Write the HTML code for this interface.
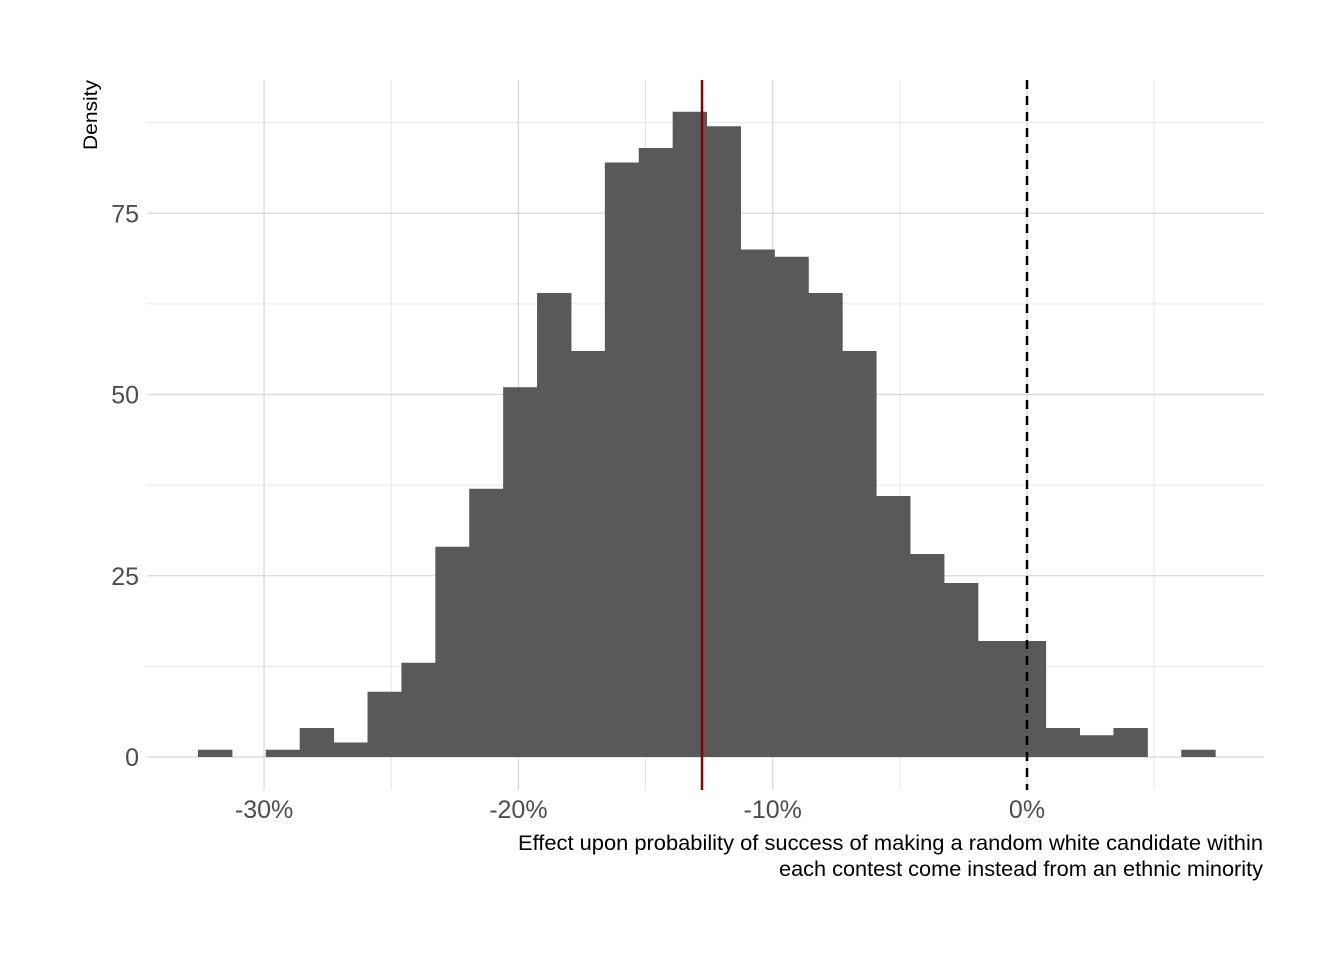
<!DOCTYPE html>
<html><head><meta charset="utf-8"><style>
body{margin:0;background:#fff}
text{font-family:"Liberation Sans",sans-serif}
</style></head><body>
<svg id="chart" width="1344" height="960" xmlns="http://www.w3.org/2000/svg">
<g id="grid"></g><g id="bars"></g><g id="lines"></g><g id="labels"></g>
<text transform="translate(97,115) rotate(-90)" text-anchor="middle" font-size="19" transform-origin="0 0" textLength="70" lengthAdjust="spacingAndGlyphs">Density</text>
<text x="1263" y="850" text-anchor="end" font-size="21" textLength="745" lengthAdjust="spacingAndGlyphs">Effect upon probability of success of making a random white candidate within</text>
<text x="1263" y="876" text-anchor="end" font-size="21" textLength="484" lengthAdjust="spacingAndGlyphs">each contest come instead from an ethnic minority</text>
</svg>
<script>
const binStart = -32.6;
const binWidth = 1.3333;
const counts = [1,0,1,4,2,9,13,29,37,51,64,56,82,84,89,87,70,69,64,56,36,28,24,16,16,4,3,4,0,1];
const xTicks = [-30,-20,-10,0];
const xMinor = [-25,-15,-5,5];
const yTicks = [0,25,50,75];
const yMinor = [12.5,37.5,62.5,87.5];
const meanEffect = -12.78;
const refLine = 0;
const NS="http://www.w3.org/2000/svg";
const X=v=>1027+v*25.43, Y=v=>757-v*7.25;
function mk(tag,parent,attrs){const e=document.createElementNS(NS,tag);for(const k in attrs)e.setAttribute(k,attrs[k]);document.getElementById(parent).appendChild(e);return e;}
yMinor.forEach(v=>{const e=mk('line','grid',{x1:147,x2:1264,y1:Y(v),y2:Y(v),stroke:'#e6e6e6','stroke-width':1});

});
xMinor.forEach(v=>{const e=mk('line','grid',{x1:X(v),x2:X(v),y1:80,y2:790,stroke:'#e6e6e6','stroke-width':1});

});
yTicks.forEach(v=>{const e=mk('line','grid',{x1:147,x2:1264,y1:Y(v),y2:Y(v),stroke:'#d6d6d6','stroke-width':1.2});


const t=mk('text','labels',{x:139,y:Y(v)+9,'text-anchor':'end','font-size':25,fill:'#4d4d4d'});t.textContent=v;

});
xTicks.forEach(v=>{const e=mk('line','grid',{x1:X(v),x2:X(v),y1:80,y2:790,stroke:'#d6d6d6','stroke-width':1.2});


const t=mk('text','labels',{x:X(v),y:818,'text-anchor':'middle','font-size':25,fill:'#4d4d4d'});t.textContent=v+'%';

});
counts.forEach((c,i)=>{if(!c)return;const x0=X(binStart+i*binWidth),x1=X(binStart+(i+1)*binWidth);
const r=mk('rect','bars',{x:x0,y:Y(c),width:x1-x0+0.5,height:Y(0)-Y(c),fill:'#595959'});

});
const m=mk('line','lines',{x1:X(meanEffect),x2:X(meanEffect),y1:80,y2:790,stroke:'#8b0000','stroke-width':2.5});


const z=mk('line','lines',{x1:X(refLine),x2:X(refLine),y1:80,y2:790,stroke:'#000','stroke-width':2.5,'stroke-dasharray':'9,7'});


</script>
</body></html>
